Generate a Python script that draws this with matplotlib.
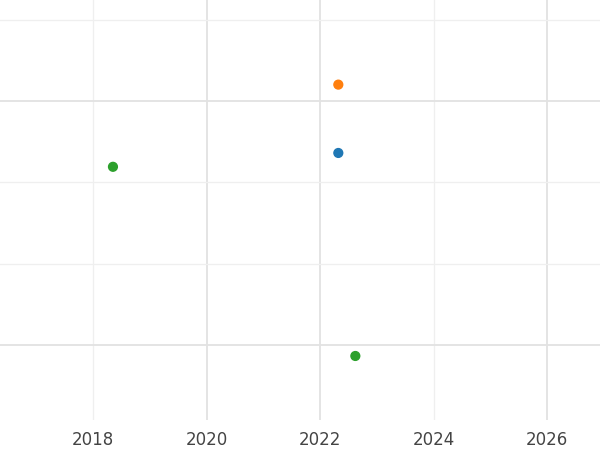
import matplotlib
matplotlib.use("Agg")
import matplotlib.pyplot as plt

# points (year, value)
years = [2022.32, 2022.32, 2018.35, 2022.62]
values = [2.36, 3.2, 2.19, -0.135]
colors = ["#1f77b4", "#ff7f0e", "#2ca02c", "#2ca02c"]

xticks = [2018, 2020, 2022, 2024, 2026]
x_strong = [2020, 2022, 2026]
y_lines = [0, 1, 2, 3, 4]
y_strong = [0, 3]

fig = plt.figure(figsize=(6, 4.5), dpi=100)
ax = fig.add_axes([0, 0.067, 1, 0.933])

for x in xticks:
    ax.axvline(x, color="#e2e2e2" if x in x_strong else "#efefef", lw=1.3 if x in x_strong else 0.9, zorder=0)
for y in y_lines:
    ax.axhline(y, color="#e2e2e2" if y in y_strong else "#efefef", lw=1.3 if y in y_strong else 0.9, zorder=0)

ax.scatter(years, values, c=colors, s=40, zorder=3)

ax.set_xlim(2016.36, 2026.93)
ax.set_ylim(-0.92, 4.24)
ax.set_xticks(xticks)
ax.set_xticklabels([str(x) for x in xticks], fontsize=12, color="#444444")
ax.set_yticks([])
ax.tick_params(axis="x", length=0, pad=8)
for s in ax.spines.values():
    s.set_visible(False)

fig.savefig("out.png", dpi=100)
